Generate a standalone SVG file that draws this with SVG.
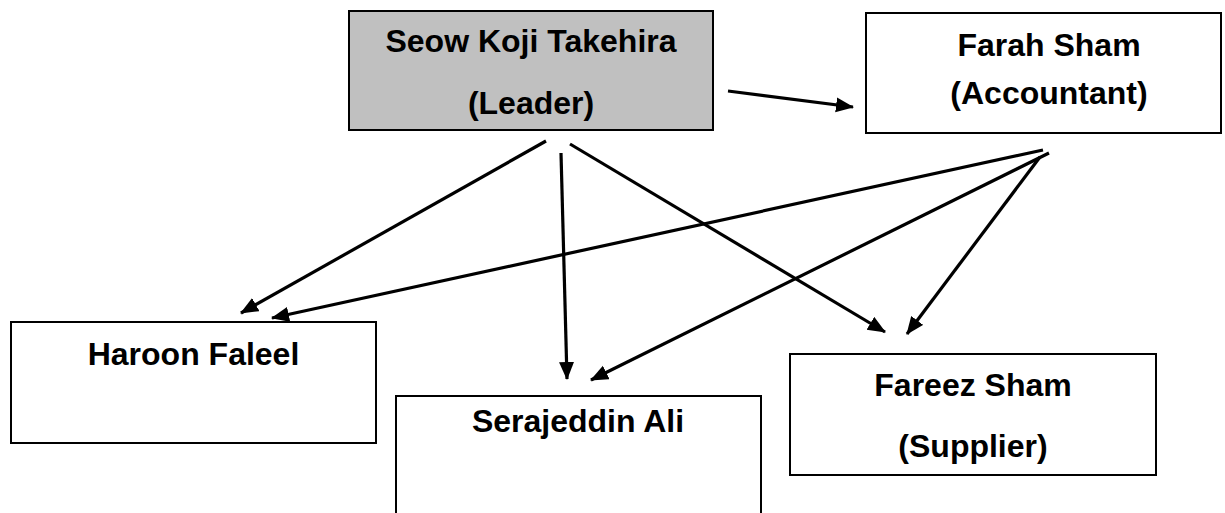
<svg xmlns="http://www.w3.org/2000/svg" width="1225" height="513" viewBox="0 0 1225 513">
<style>
.box{fill:#fff;stroke:#000;stroke-width:2}
.lead{fill:#c0c0c0}
.t{font-family:"Liberation Sans",Arial,sans-serif;font-weight:bold;font-size:32px;fill:#000;text-anchor:middle}
.c{stroke:#000;stroke-width:3.2;fill:none;marker-end:url(#ah)}
</style>
<defs>
<marker id="ah" markerUnits="userSpaceOnUse" markerWidth="19" markerHeight="16" refX="17" refY="7.5" orient="auto">
<path d="M0,0 L18,7.5 L0,15 z" fill="#000"/>
</marker>
</defs>
<rect width="1225" height="513" fill="#fff"/>
<g id="connectors">
<line class="c" x1="728" y1="91" x2="853" y2="107"/>
<line class="c" x1="546" y1="141" x2="241" y2="313"/>
<line class="c" x1="561" y1="153" x2="567" y2="379"/>
<line class="c" x1="570" y1="144" x2="885" y2="332"/>
<line class="c" x1="1043" y1="150" x2="272" y2="318"/>
<line class="c" x1="1049" y1="153" x2="591" y2="380"/>
<line class="c" x1="1040" y1="157" x2="907" y2="334"/>
</g>
<g id="leader">
<rect class="box lead" x="349" y="11" width="364" height="119"/>
<text class="t" x="531" y="52">Seow Koji Takehira</text>
<text class="t" x="531" y="114">(Leader)</text>
</g>
<g id="farah">
<rect class="box" x="866" y="13" width="355" height="120"/>
<text class="t" x="1049" y="56">Farah Sham</text>
<text class="t" x="1049" y="104">(Accountant)</text>
</g>
<g id="haroon">
<rect class="box" x="11" y="322" width="365" height="121"/>
<text class="t" x="193.5" y="365">Haroon Faleel</text>
</g>
<g id="serajeddin">
<rect class="box" x="396" y="396" width="365" height="130"/>
<text class="t" x="578" y="432">Serajeddin Ali</text>
</g>
<g id="fareez">
<rect class="box" x="790" y="354" width="366" height="121"/>
<text class="t" x="973" y="396">Fareez Sham</text>
<text class="t" x="973" y="457">(Supplier)</text>
</g>
</svg>
